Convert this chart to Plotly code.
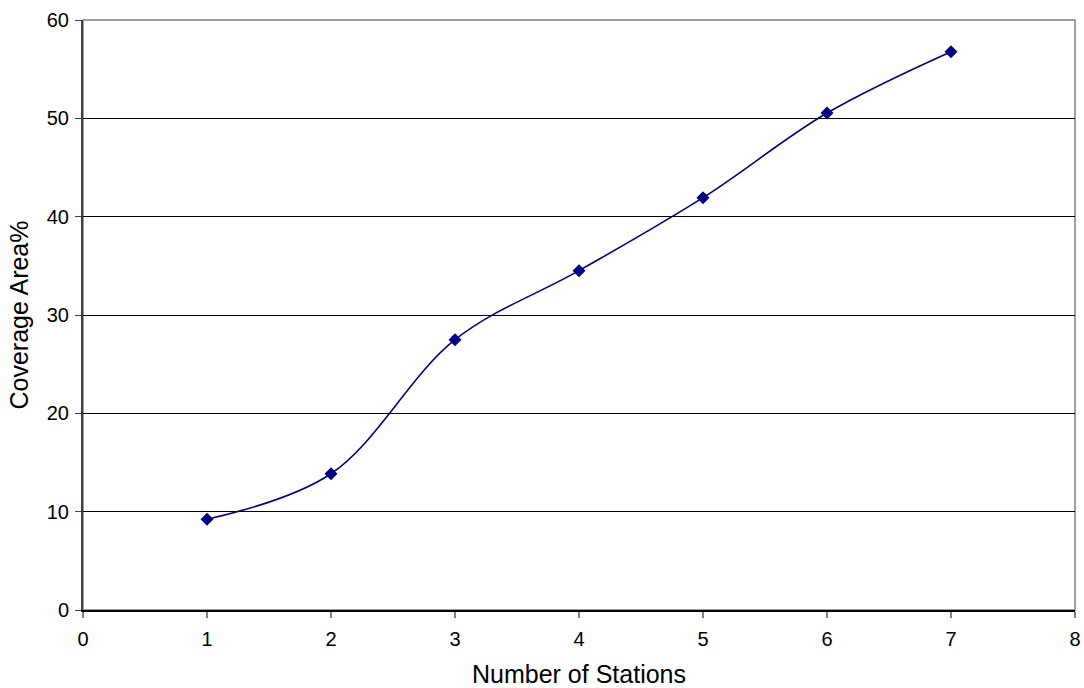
import plotly.graph_objects as go

stations = [1, 2, 3, 4, 5, 6, 7]
coverage = [9.22, 13.86, 27.49, 34.51, 41.93, 50.54, 56.78]
x_ticks = [0, 1, 2, 3, 4, 5, 6, 7, 8]
y_ticks = [0, 10, 20, 30, 40, 50, 60]

fig = go.Figure()
fig.add_trace(go.Scatter(
    x=stations, y=coverage, mode="lines+markers",
    line=dict(color="#000080", width=1.6, shape="spline", smoothing=1.0),
    marker=dict(symbol="diamond", size=10, color="#000080"),
    showlegend=False, cliponaxis=False,
))

fig.add_shape(type="rect", xref="paper", yref="paper", x0=0, y0=0, x1=1, y1=1,
              line=dict(color="#808080", width=1.5), layer="below")

font = "Liberation Sans, Arial, sans-serif"
fig.update_layout(
    width=1084, height=688,
    margin=dict(l=83, r=9, t=20, b=78, autoexpand=False),
    paper_bgcolor="white", plot_bgcolor="white",
    font=dict(family=font, color="black", size=20),
    xaxis=dict(
        range=[0, 8], tickvals=x_ticks, ticks="outside", ticklen=6,
        tickcolor="#808080", tickwidth=2, ticklabelstandoff=4,
        showgrid=False, zeroline=False, automargin=False,
        showline=True, linecolor="black", linewidth=1.5,
        tickfont=dict(size=20),
        title=dict(text="Number of Stations", font=dict(size=25), standoff=30),
    ),
    yaxis=dict(
        range=[0, 60], tickvals=y_ticks, ticks="outside", ticklen=6,
        tickcolor="#404040", tickwidth=1, ticklabelstandoff=2,
        showgrid=True, gridcolor="black", gridwidth=1, zeroline=False,
        automargin=False,
        showline=True, linecolor="#404040", linewidth=2,
        tickfont=dict(size=20),
        title=dict(text="Coverage Area%", font=dict(size=25), standoff=11),
    ),
)

fig.write_html(
    "out.html",
    config={"displayModeBar": False},
    post_script="document.body.style.margin='0';document.body.style.overflow='hidden';",
)
